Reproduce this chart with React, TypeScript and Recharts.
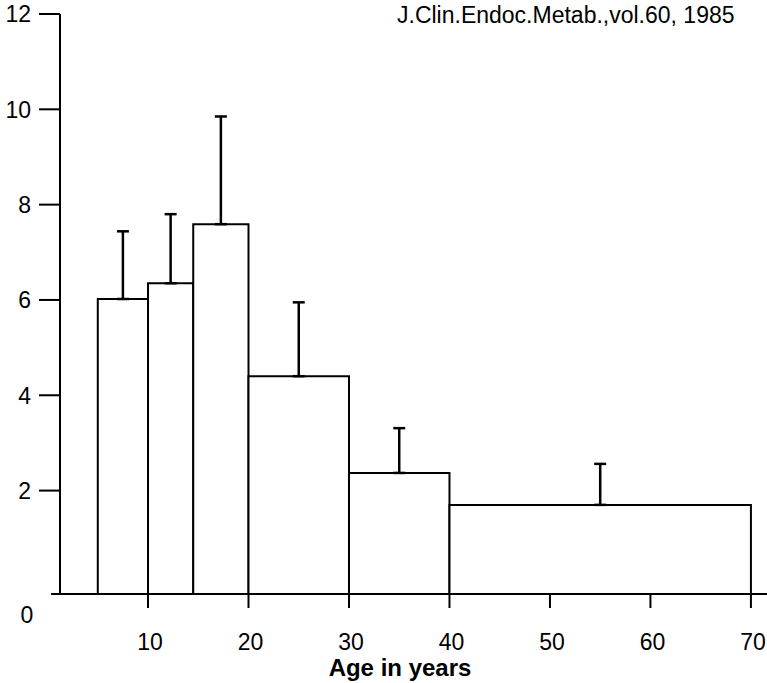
import React from 'react';
import {
  ComposedChart,
  XAxis,
  YAxis,
  Scatter,
  ErrorBar,
  ReferenceArea,
  ReferenceLine,
  Customized,
} from 'recharts';

// age bins (years) and mean value with upper SD
const binStart = [5, 10, 14.5, 20, 30, 40];
const binEnd = [10, 14.5, 20, 30, 40, 70];
const means = [6.02, 6.35, 7.59, 4.4, 2.37, 1.7];
const sds = [1.42, 1.45, 2.26, 1.55, 0.94, 0.86];

const xTicks = [10, 20, 30, 40, 50, 60, 70];
const yTicks = [0, 2, 4, 6, 8, 10, 12];

const X_DOMAIN: [number, number] = [1.24, 71.6];
const Y_DOMAIN: [number, number] = [-0.17, 12];

const FONT = '"Liberation Sans", Arial, Helvetica, sans-serif';

const points = binStart.map((s, i) => ({
  mid: (s + binEnd[i]) / 2,
  value: means[i],
  err: [0, sds[i]],
}));

const YTick = (props: any) => {
  const { x, y, payload } = props;
  if (payload.value === 0) {
    return (
      <text x={x - 33} y={y + 37} textAnchor="middle" fontSize={23} fontFamily={FONT} fill="#000">
        0
      </text>
    );
  }
  return (
    <g>
      <line x1={x - 21} y1={y} x2={x} y2={y} stroke="#000" strokeWidth={2} />
      <text x={x - 29} y={y} dy="0.36em" textAnchor="end" fontSize={23} fontFamily={FONT} fill="#000">
        {payload.value}
      </text>
    </g>
  );
};

const XTick = (props: any) => {
  const { x, y, payload } = props;
  return (
    <text x={x + 2} y={y + 40} textAnchor="middle" fontSize={23} fontFamily={FONT} fill="#000">
      {payload.value}
    </text>
  );
};

const Source = () => (
  <text x={397} y={23} fontSize={23} fontFamily={FONT} fill="#000">
    J.Clin.Endoc.Metab.,vol.60, 1985
  </text>
);

export default function App() {
  return (
    <div style={{ position: 'absolute', left: 0, top: 0, background: '#fff' }}>
      <ComposedChart
        width={767}
        height={683}
        margin={{ top: 14, right: 0, bottom: 0, left: 0 }}
      >
        <XAxis
          type="number"
          dataKey="mid"
          domain={X_DOMAIN}
          allowDataOverflow
          ticks={xTicks}
          axisLine={false}
          tickSize={14}
          tickMargin={2}
          tickLine={{ stroke: '#000', strokeWidth: 2 }}
          tick={<XTick />}
          height={89}
          label={{
            content: () => (
              <text x={400} y={676} textAnchor="middle" fontSize={24} fontWeight="bold" fontFamily={FONT} fill="#000">
                Age in years
              </text>
            ),
          }}
        />
        <YAxis
          type="number"
          dataKey="value"
          domain={Y_DOMAIN}
          allowDataOverflow
          ticks={yTicks}
          width={60}
          tickSize={0}
          tickMargin={0}
          tickLine={false}
          axisLine={{ stroke: '#000', strokeWidth: 2 }}
          tick={<YTick />}
        />
        {binStart.map((s, i) => (
          <ReferenceArea
            key={`bin-${i}`}
            x1={s}
            x2={binEnd[i]}
            y1={Y_DOMAIN[0]}
            y2={means[i]}
            fill="#fff"
            fillOpacity={1}
            stroke="#000"
            strokeWidth={2}
          />
        ))}
        <ReferenceLine
          segment={[
            { x: 0.35, y: Y_DOMAIN[0] },
            { x: X_DOMAIN[1], y: Y_DOMAIN[0] },
          ]}
          ifOverflow="visible"
          stroke="#000"
          strokeWidth={2}
        />
        <Scatter data={points} shape={() => <g />} isAnimationActive={false}>
          <ErrorBar dataKey="err" direction="y" width={6} stroke="#000" strokeWidth={2.5} isAnimationActive={false} />
        </Scatter>
        <Customized component={Source} />
      </ComposedChart>
    </div>
  );
}
